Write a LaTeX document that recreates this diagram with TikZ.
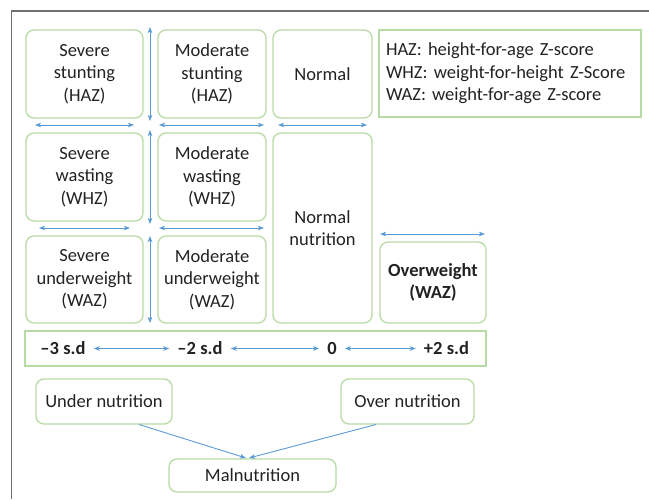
\documentclass[tikz,border=0pt]{standalone}
\usepackage{fontspec}
\setmainfont{Carlito}
\usetikzlibrary{arrows.meta}
\definecolor{boxgreen}{RGB}{184,218,164}
\definecolor{arrblue}{RGB}{91,155,213}
\definecolor{txt}{RGB}{34,34,34}
\definecolor{framegray}{RGB}{112,112,112}
\tikzset{
  box/.style={draw=boxgreen, line width=1.3pt, rounded corners=8pt, align=center, text=txt,
    font=\fontsize{18.5}{22.5}\selectfont, inner sep=0pt},
  sqbox/.style={draw=boxgreen, line width=1.3pt, text=txt, font=\fontsize{18.5}{22.5}\selectfont\frenchspacing},
  arr/.style={draw=arrblue, line width=0.9pt, {Stealth[length=6pt,width=4.5pt,inset=1.5pt]}-{Stealth[length=6pt,width=4.5pt,inset=1.5pt]}},
  onearr/.style={draw=arrblue, line width=0.9pt, -{Stealth[length=6pt,width=4.5pt,inset=1.5pt]}},
  sdlab/.style={text=txt, font=\fontsize{18.5}{22.5}\selectfont\bfseries, inner xsep=8pt, inner ysep=2pt}
}
\begin{document}
\begin{tikzpicture}[x=1pt,y=-1pt]
\useasboundingbox (0,0) rectangle (649,499);
% frame
\draw[framegray, line width=1.4pt] (11.5,499) -- (11.5,11) -- (649,11);

% row 1
\node[box, minimum width=117pt, minimum height=88pt] (ss) at (84.5,74) {Severe\\stunting\\(HAZ)};
\node[box, minimum width=108pt, minimum height=88pt] (ms) at (212,74) {Moderate\\stunting\\(HAZ)};
\node[box, minimum width=99pt, minimum height=88pt] (nm) at (322.5,74) {Normal};
\node[sqbox, text width=248pt, inner xsep=7pt, minimum height=87pt, align=left] (lg) at (510,73.5)
  {HAZ: height-for-age Z-score\\WHZ: weight-for-height Z-Score\\WAZ: weight-for-age Z-score};

% row 2
\node[box, minimum width=117pt, minimum height=88pt] (sw) at (84.5,177) {Severe\\wasting\\(WHZ)};
\node[box, minimum width=108pt, minimum height=88pt] (mw) at (212,177) {Moderate\\wasting\\(WHZ)};
\node[box, minimum width=99pt, minimum height=190pt] (nn) at (322.5,228) {Normal\\nutrition};

% row 3
\node[box, minimum width=117pt, minimum height=87pt] (su) at (84.5,279.5) {Severe\\underweight\\(WAZ)};
\node[box, minimum width=108pt, minimum height=87pt] (mu) at (212,279.5) {Moderate\\underweight\\(WAZ)};
\node[box, minimum width=106pt, minimum height=81pt, font=\fontsize{18.5}{22.5}\selectfont\bfseries] (ow) at (433,282.5) {Overweight\\(WAZ)};

% scale bar
\node[sqbox, minimum width=461pt, minimum height=35pt, inner sep=0pt] (sc) at (255.5,348.5) {};
\node[sdlab] (m3) at (63,348.5) {–3 s.d};
\node[sdlab] (m2) at (200,348.5) {–2 s.d};
\node[sdlab] (z0) at (332,348.5) {0};
\node[sdlab] (p2) at (446.5,348.5) {+2 s.d};
\draw[arr] (m3) -- (m2);
\draw[arr] (m2) -- (z0);
\draw[arr] (z0) -- (p2);

% bottom
\node[box, minimum width=136pt, minimum height=45pt] (un) at (104,401.5) {Under nutrition};
\node[box, minimum width=133pt, minimum height=45pt] (on) at (407.5,401.5) {Over nutrition};
\node[box, minimum width=167pt, minimum height=33pt] (mal) at (252.5,475.5) {Malnutrition};
\coordinate (unp) at (139,424.5);
\coordinate (onp) at (376,424.5);
\coordinate (malL) at (246,458);
\coordinate (malR) at (249,458);
\draw[onearr] (unp) -- (malL);
\draw[onearr] (onp) -- (malR);

% vertical arrows
\coordinate (v1a) at (150,27); \coordinate (v1b) at (150,121);
\coordinate (v2a) at (150,130); \coordinate (v2b) at (150,224);
\coordinate (v3a) at (150,236); \coordinate (v3b) at (150,323);
\draw[arr] (v1a) -- (v1b);
\draw[arr] (v2a) -- (v2b);
\draw[arr] (v3a) -- (v3b);

% horizontal arrows
\coordinate (h1a) at (35,125); \coordinate (h1b) at (134,125);
\coordinate (h2a) at (159,125); \coordinate (h2b) at (264,125);
\coordinate (h3a) at (278,125); \coordinate (h3b) at (367,125);
\coordinate (h4a) at (39,228); \coordinate (h4b) at (130,228);
\coordinate (h5a) at (159,228); \coordinate (h5b) at (264,228);
\coordinate (h6a) at (380,234); \coordinate (h6b) at (485,234);
\draw[arr] (h1a) -- (h1b);
\draw[arr] (h2a) -- (h2b);
\draw[arr] (h3a) -- (h3b);
\draw[arr] (h4a) -- (h4b);
\draw[arr] (h5a) -- (h5b);
\draw[arr] (h6a) -- (h6b);
\end{tikzpicture}
\end{document}
